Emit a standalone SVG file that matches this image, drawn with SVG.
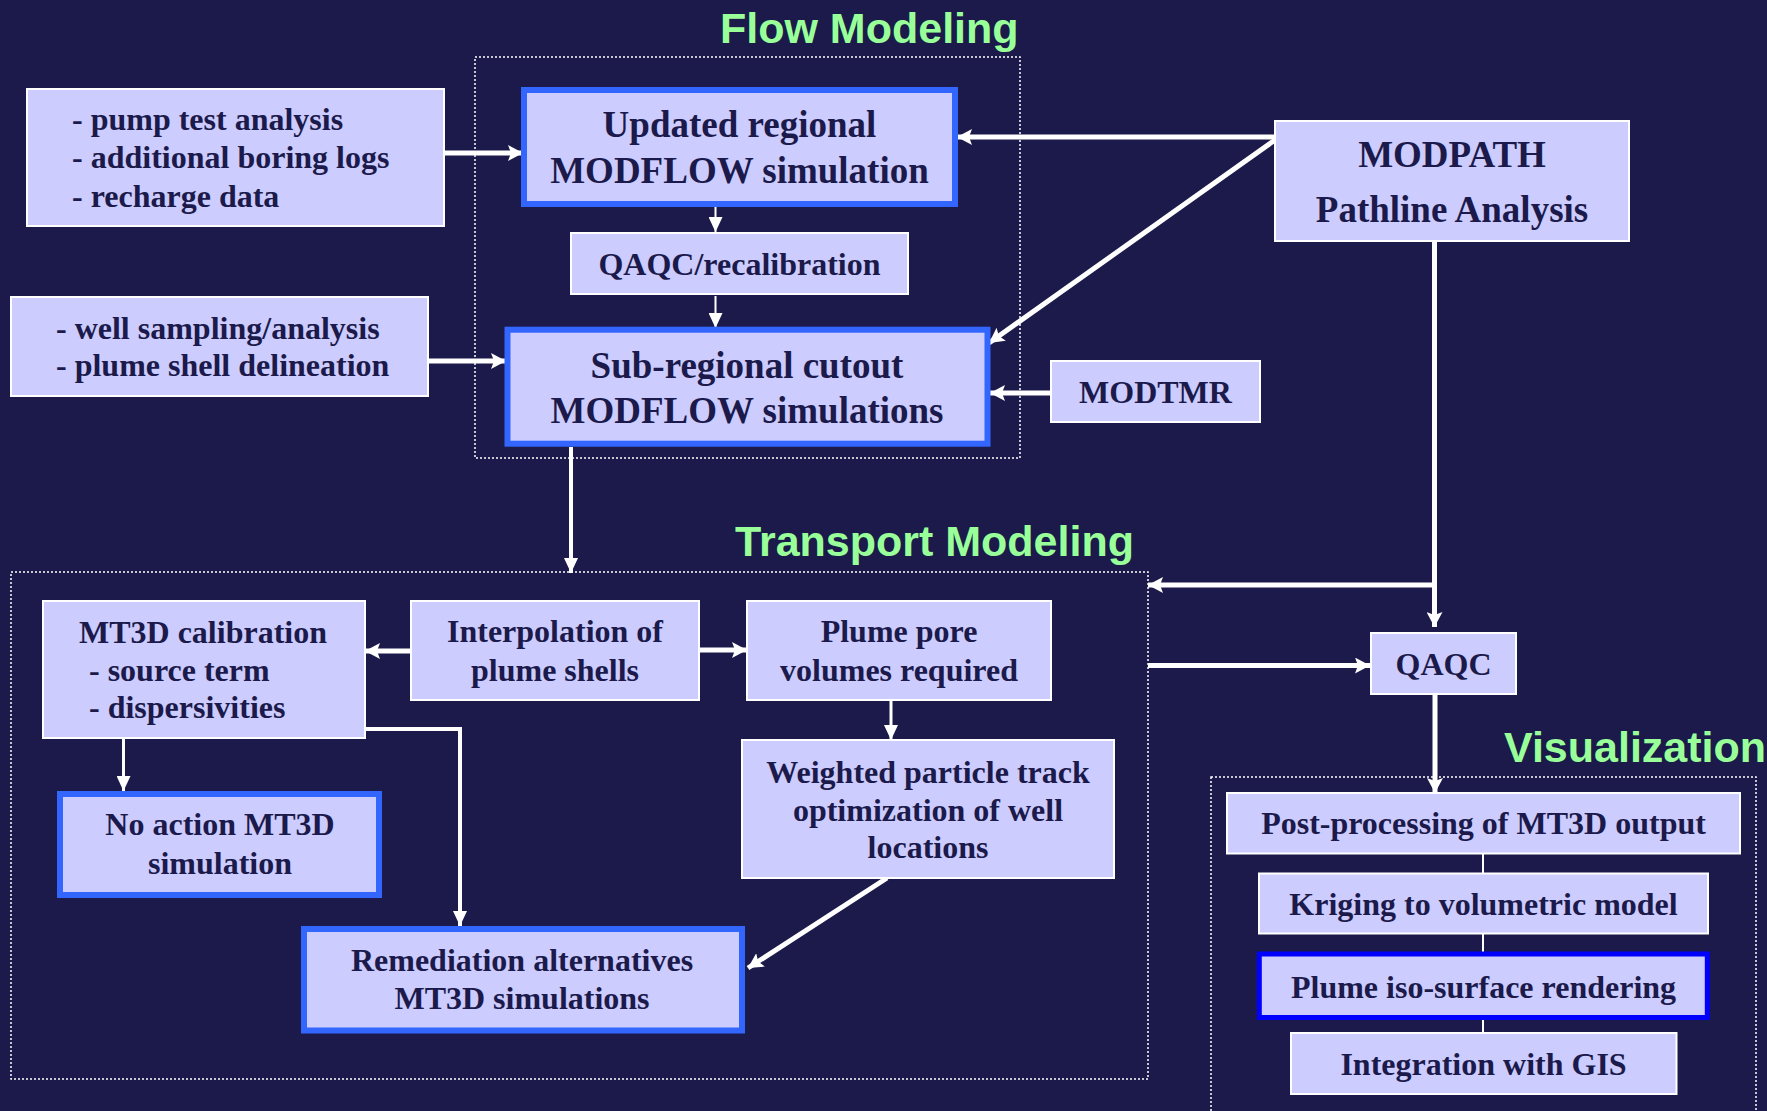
<svg xmlns="http://www.w3.org/2000/svg" width="1767" height="1111" viewBox="0 0 1767 1111">
<style>
.bg{fill:#1B1A4B}
.box{fill:#CCCCFF;stroke:#FFFFFF;stroke-width:2}
.bbox{fill:#CCCCFF;stroke:#3366FF;stroke-width:6}
.vbox{fill:#CCCCFF;stroke:#0000FF;stroke-width:5}
.t{font-family:"Liberation Serif","Times New Roman",serif;font-weight:bold;font-size:32px;fill:#1B1A4B}
.tl{font-family:"Liberation Serif","Times New Roman",serif;font-weight:bold;font-size:37px;fill:#1B1A4B}
.c{text-anchor:middle}
.title{font-family:"Liberation Sans",Arial,sans-serif;font-weight:bold;font-size:43px;fill:#99FF99}
.grp{fill:none;stroke:#FFFFFF;stroke-width:1.5;stroke-dasharray:2 2}
.w5{fill:none;stroke:#FFFFFF;stroke-width:5}
.w4{fill:none;stroke:#FFFFFF;stroke-width:4}
.w3{fill:none;stroke:#FFFFFF;stroke-width:3}
.w2{fill:none;stroke:#FFFFFF;stroke-width:2}
</style>
<defs>
<marker id="ah" markerUnits="userSpaceOnUse" markerWidth="16" markerHeight="16" refX="15" refY="8" orient="auto">
<path d="M0,0 L15,8 L0,16 L3,8 z" fill="#FFFFFF"/>
</marker>
<marker id="ahs" markerUnits="userSpaceOnUse" markerWidth="15" markerHeight="14" refX="15" refY="7" orient="auto">
<path d="M0,0 L15,7 L0,14 z" fill="#FFFFFF"/>
</marker>
</defs>
<rect class="bg" x="0" y="0" width="1767" height="1111"/>

<g id="groups">
<rect class="grp" x="475" y="57" width="545" height="401"/>
<text class="title" x="720" y="43">Flow Modeling</text>
<rect class="grp" x="11" y="572" width="1137" height="507"/>
<text class="title" x="735" y="556">Transport Modeling</text>
<rect class="grp" x="1211" y="777" width="545" height="350"/>
<text class="title" x="1504" y="762">Visualization</text>
</g>

<g id="connectors">
<line class="w5" x1="444" y1="153" x2="523" y2="153" marker-end="url(#ah)"/>
<line class="w5" x1="428" y1="361" x2="506" y2="361" marker-end="url(#ah)"/>
<line class="w2" x1="715.5" y1="207" x2="715.5" y2="232" marker-end="url(#ahs)"/>
<line class="w2" x1="715.5" y1="296" x2="715.5" y2="328" marker-end="url(#ahs)"/>
<line class="w5" x1="1275" y1="137" x2="957" y2="137" marker-end="url(#ah)"/>
<line class="w5" x1="1275" y1="140" x2="989" y2="343" marker-end="url(#ah)"/>
<line class="w5" x1="1051" y1="393" x2="990" y2="393" marker-end="url(#ah)"/>
<line class="w4" x1="571" y1="447" x2="571" y2="573" marker-end="url(#ahs)"/>
<line class="w5" x1="411" y1="651" x2="365" y2="651" marker-end="url(#ah)"/>
<line class="w5" x1="699" y1="650" x2="747" y2="650" marker-end="url(#ah)"/>
<line class="w3" x1="123.5" y1="738" x2="123.5" y2="791" marker-end="url(#ahs)"/>
<path class="w4" d="M365,729 H460 V926" marker-end="url(#ahs)"/>
<line class="w3" x1="891" y1="700" x2="891" y2="740" marker-end="url(#ahs)"/>
<line class="w5" x1="887" y1="878" x2="748" y2="968" marker-end="url(#ah)"/>
<line class="w5" x1="1434.5" y1="241" x2="1434.5" y2="627" marker-end="url(#ah)"/>
<line class="w5" x1="1434.5" y1="585" x2="1148" y2="585" marker-end="url(#ah)"/>
<line class="w5" x1="1148" y1="665.5" x2="1370" y2="665.5" marker-end="url(#ah)"/>
<line class="w5" x1="1435" y1="694" x2="1435" y2="793" marker-end="url(#ah)"/>
<line class="w2" x1="1483" y1="853" x2="1483" y2="874"/>
<line class="w2" x1="1483" y1="933" x2="1483" y2="952"/>
<line class="w2" x1="1483" y1="1019" x2="1483" y2="1034"/>
</g>

<g id="n-pump">
<rect class="box" x="27" y="89" width="417" height="137"/>
<text class="t" x="72" y="130">- pump test analysis</text>
<text class="t" x="72" y="168">- additional boring logs</text>
<text class="t" x="72" y="207">- recharge data</text>
</g>
<g id="n-updated">
<rect class="bbox" x="524" y="90" width="431" height="114"/>
<text class="tl c" x="739.5" y="137">Updated regional</text>
<text class="tl c" x="739.5" y="183">MODFLOW simulation</text>
</g>
<g id="n-qaqcrecal">
<rect class="box" x="571" y="233" width="337" height="61"/>
<text class="t c" x="739.5" y="275">QAQC/recalibration</text>
</g>
<g id="n-well">
<rect class="box" x="11" y="297" width="417" height="99"/>
<text class="t" x="56" y="339">- well sampling/analysis</text>
<text class="t" x="56" y="376">- plume shell delineation</text>
</g>
<g id="n-sub">
<rect class="bbox" x="507.5" y="329.7" width="480" height="114"/>
<text class="tl c" x="747" y="378">Sub-regional cutout</text>
<text class="tl c" x="747" y="423">MODFLOW simulations</text>
</g>
<g id="n-modtmr">
<rect class="box" x="1051" y="361" width="209" height="61"/>
<text class="t c" x="1155.5" y="403">MODTMR</text>
</g>
<g id="n-modpath">
<rect class="box" x="1275" y="121" width="354" height="120"/>
<text class="tl c" x="1452" y="167">MODPATH</text>
<text class="tl c" x="1452" y="222">Pathline Analysis</text>
</g>
<g id="n-mt3dcal">
<rect class="box" x="43" y="601" width="322" height="137"/>
<text class="t" x="79" y="642.5">MT3D calibration</text>
<text class="t" x="89" y="680.5">- source term</text>
<text class="t" x="89" y="717.5">- dispersivities</text>
</g>
<g id="n-interp">
<rect class="box" x="411" y="601" width="288" height="99"/>
<text class="t c" x="555" y="642">Interpolation of</text>
<text class="t c" x="555" y="680.5">plume shells</text>
</g>
<g id="n-plumepore">
<rect class="box" x="747" y="601" width="304" height="99"/>
<text class="t c" x="899" y="642">Plume pore</text>
<text class="t c" x="899" y="680.5">volumes required</text>
</g>
<g id="n-noaction">
<rect class="bbox" x="60" y="794" width="319" height="101"/>
<text class="t c" x="220" y="835">No action MT3D</text>
<text class="t c" x="220" y="874">simulation</text>
</g>
<g id="n-weighted">
<rect class="box" x="742" y="740" width="372" height="138"/>
<text class="t c" x="928" y="783">Weighted particle track</text>
<text class="t c" x="928" y="821">optimization of well</text>
<text class="t c" x="928" y="858">locations</text>
</g>
<g id="n-remediation">
<rect class="bbox" x="304" y="929" width="438" height="101.5"/>
<text class="t c" x="522" y="971">Remediation alternatives</text>
<text class="t c" x="522" y="1009">MT3D simulations</text>
</g>
<g id="n-qaqc">
<rect class="box" x="1371" y="633" width="145" height="61"/>
<text class="t c" x="1443.5" y="674.5">QAQC</text>
</g>
<g id="n-post">
<rect class="box" x="1227" y="793" width="513" height="60.5"/>
<text class="t c" x="1483.5" y="834">Post-processing of MT3D output</text>
</g>
<g id="n-kriging">
<rect class="box" x="1259" y="873.5" width="449" height="60"/>
<text class="t c" x="1483.5" y="914.5">Kriging to volumetric model</text>
</g>
<g id="n-iso">
<rect class="vbox" x="1259.3" y="954" width="448" height="63.5"/>
<text class="t c" x="1483.5" y="997.5">Plume iso-surface rendering</text>
</g>
<g id="n-gis">
<rect class="box" x="1291" y="1033" width="385.5" height="61"/>
<text class="t c" x="1483.5" y="1075">Integration with GIS</text>
</g>
</svg>
